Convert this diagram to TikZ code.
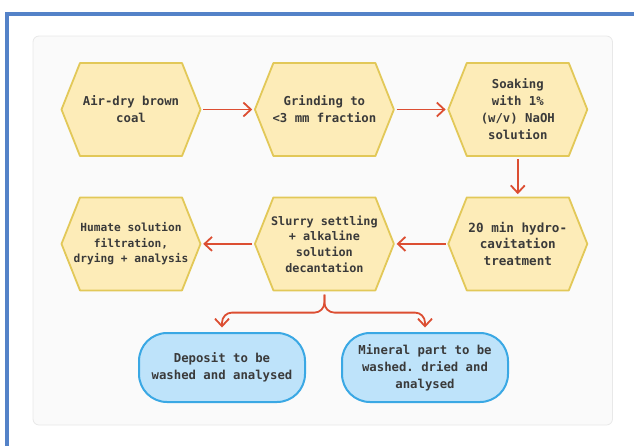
\documentclass[tikz,border=0pt]{standalone}
\usepackage{fontspec}
\setmonofont{DejaVu Sans Mono}
\usepackage{tikz}
\usetikzlibrary{arrows.meta,positioning,calc}
\definecolor{framblue}{RGB}{84,130,200}
\definecolor{panelfill}{RGB}{250,250,250}
\definecolor{panelline}{RGB}{232,232,232}
\definecolor{hexfill}{RGB}{253,236,184}
\definecolor{hexline}{RGB}{226,200,88}
\definecolor{boxfill}{RGB}{190,227,250}
\definecolor{boxline}{RGB}{58,168,228}
\definecolor{flowred}{RGB}{220,78,50}
\definecolor{txtgray}{RGB}{58,58,58}

\begin{document}
\begin{tikzpicture}[
  x=1pt, y=1pt,
  node distance=51pt and 51pt,
  hexbox/.style={
    rectangle,
    fill=panelfill,
    minimum width=142pt,
    minimum height=96pt,
    inner sep=0pt,
    align=center,
    text=txtgray,
    font=\ttfamily\bfseries\fontsize{12.3}{17}\selectfont,
    path picture={
      \path[fill=hexfill, draw=hexline, line width=1.8pt, line join=round]
        ([xshift=1.5pt]path picture bounding box.west)
        -- ([xshift=20pt,yshift=-1.5pt]path picture bounding box.north west)
        -- ([xshift=-20pt,yshift=-1.5pt]path picture bounding box.north east)
        -- ([xshift=-1.5pt]path picture bounding box.east)
        -- ([xshift=-20pt,yshift=1.5pt]path picture bounding box.south east)
        -- ([xshift=20pt,yshift=1.5pt]path picture bounding box.south west)
        -- cycle;
      }
    },
  outbox/.style={
    draw=boxline,
    fill=boxfill,
    line width=2pt,
    rounded corners=28pt,
    minimum width=166pt,
    minimum height=69pt,
    align=center,
    text=txtgray,
    font=\ttfamily\bfseries\fontsize{12.3}{17}\selectfont
    },
  flow/.style={
    draw=flowred,
    line width=1.8pt,
    -{Straight Barb[length=7.5pt,width=14pt,line width=1.8pt]}
    }
]

\useasboundingbox (0,0) rectangle (634,-445);

% frame and panel
\draw[framblue, line width=3.5pt] (7,-450) -- (7,-14) -- (640,-14);
\draw[panelline, fill=panelfill, rounded corners=6pt, line width=0.8pt]
  (33,-36) rectangle (612.5,-425);

% first row
\node[hexbox] (hex1) at (131,-109.5) {Air-dry brown\\coal};
\node[hexbox, right=of hex1] (hex2) {Grinding to\\<3 mm fraction};
\node[hexbox, right=of hex2] (hex3) {Soaking\\with 1\%\\(w/v) NaOH\\solution};

% second row
\node[hexbox, below=38pt of hex3,
  font=\ttfamily\bfseries\fontsize{12.6}{16.7}\selectfont]
  (hex6) {20 min hydro-\\cavitation\\treatment};
\node[hexbox, left=of hex6,
  font=\ttfamily\bfseries\fontsize{11.8}{15.7}\selectfont]
  (hex5) {Slurry settling\\+ alkaline\\solution\\decantation};
\node[hexbox, left=of hex5,
  font=\ttfamily\bfseries\fontsize{11.2}{15.4}\selectfont]
  (hex4) {Humate solution\\filtration,\\drying + analysis};

% outputs
\node[outbox] (deposit) at (222,-367.5) {Deposit to be\\washed and analysed};
\node[outbox] (mineral) at (425,-367.5) {Mineral part to be\\washed. dried and\\analysed};

\coordinate (fork) at ($(hex5.south)+(0,-20.5)$);

\draw[flow, shorten <=1pt, shorten >=1pt] (hex1) -- (hex2);
\draw[flow, shorten <=1pt, shorten >=1pt] (hex2) -- (hex3);
\draw[flow, shorten <=1.5pt, shorten >=1.5pt] (hex3) -- (hex6);
\draw[flow, shorten <=1pt, shorten >=1pt] (hex6) -- (hex5);
\draw[flow, shorten <=1pt, shorten >=1pt] (hex5) -- (hex4);

\draw[flow, rounded corners=10pt, shorten <=2.5pt, shorten >=4.5pt]
  (hex5.south) -- (fork) -| (deposit.north);
\draw[flow, rounded corners=10pt, shorten <=2.5pt, shorten >=4.5pt]
  (hex5.south) -- (fork) -| (mineral.north);
\end{tikzpicture}
\end{document}
